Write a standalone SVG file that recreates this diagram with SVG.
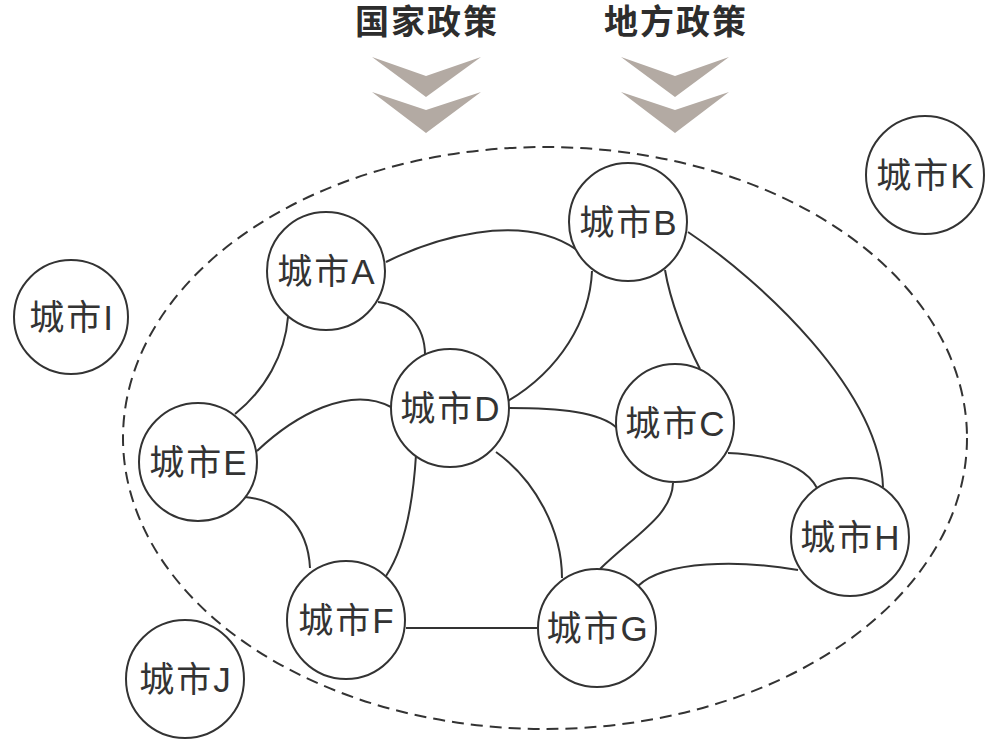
<svg xmlns="http://www.w3.org/2000/svg" width="998" height="753" viewBox="0 0 998 753">
<style>
.node circle{fill:#fff;stroke:#333;stroke-width:2}
.node text{font-family:"Liberation Sans","Noto Sans CJK SC",sans-serif;font-size:35px;fill:#333;text-anchor:middle;dominant-baseline:central;letter-spacing:2px}
.title{font-family:"Liberation Sans","Noto Sans CJK SC",sans-serif;font-size:34px;font-weight:bold;fill:#2d2d2d;text-anchor:middle;letter-spacing:2px}
.chev{fill:#b3aaa3}
#connectors path,#connectors line{fill:none;stroke:#333;stroke-width:2}
</style>
<rect width="998" height="753" fill="#fff"/>
<g id="policy-national">
<text class="title" x="427" y="34">国家政策</text>
<polygon class="chev" points="372,57 426,76 481,57 426,97"/>
<polygon class="chev" points="372,92 426,110 481,92 426,133"/>
</g>
<g id="policy-local">
<text class="title" x="676" y="34">地方政策</text>
<polygon class="chev" points="621,57 675,76 729,57 675,97"/>
<polygon class="chev" points="621,92 675,110 729,92 675,133"/>
</g>
<g id="region">
<ellipse cx="545" cy="438" rx="422" ry="291" fill="none" stroke="#333" stroke-width="2" stroke-dasharray="12,7"/>
</g>
<g id="connectors">
<path d="M386,262 C430,240 520,210 577,250"/>
<path d="M378,302 C405,305 425,325 425,355"/>
<path d="M288,317 C285,355 265,390 235,414"/>
<path d="M257,451 C295,415 350,385 391,407"/>
<path d="M245,497 C280,500 308,525 310,568"/>
<path d="M416,455 C412,520 400,555 386,576"/>
<path d="M496,452 C535,480 562,530 562,578"/>
<path d="M508,401 C560,370 590,320 592,271"/>
<path d="M509,408 C560,408 600,412 617,428"/>
<path d="M665,270 C670,300 685,340 700,369"/>
<path d="M688,232 C760,280 880,390 883,487"/>
<path d="M728,453 C770,455 805,465 817,488"/>
<path d="M673,483 C672,515 635,535 600,569"/>
<path d="M638,586 C665,560 740,560 798,570"/>
<line x1="406" y1="628" x2="537" y2="628"/>
</g>
<g id="city-A" class="node"><circle cx="326" cy="271" r="59"/><text x="327" y="271">城市A</text></g>
<g id="city-B" class="node"><circle cx="628" cy="222" r="59"/><text x="629" y="222">城市B</text></g>
<g id="city-C" class="node"><circle cx="675" cy="423" r="59"/><text x="676" y="423">城市C</text></g>
<g id="city-D" class="node"><circle cx="450" cy="408" r="59"/><text x="451" y="408">城市D</text></g>
<g id="city-E" class="node"><circle cx="198" cy="462" r="59"/><text x="199" y="462">城市E</text></g>
<g id="city-F" class="node"><circle cx="346" cy="620" r="59"/><text x="347" y="620">城市F</text></g>
<g id="city-G" class="node"><circle cx="597" cy="628" r="59"/><text x="598" y="628">城市G</text></g>
<g id="city-H" class="node"><circle cx="850" cy="537" r="59"/><text x="851" y="537">城市H</text></g>
<g id="city-I" class="node"><circle cx="71" cy="317" r="57"/><text x="72" y="317">城市I</text></g>
<g id="city-J" class="node"><circle cx="185" cy="679" r="59"/><text x="186" y="679">城市J</text></g>
<g id="city-K" class="node"><circle cx="925" cy="175" r="59"/><text x="926" y="175">城市K</text></g>
</svg>
